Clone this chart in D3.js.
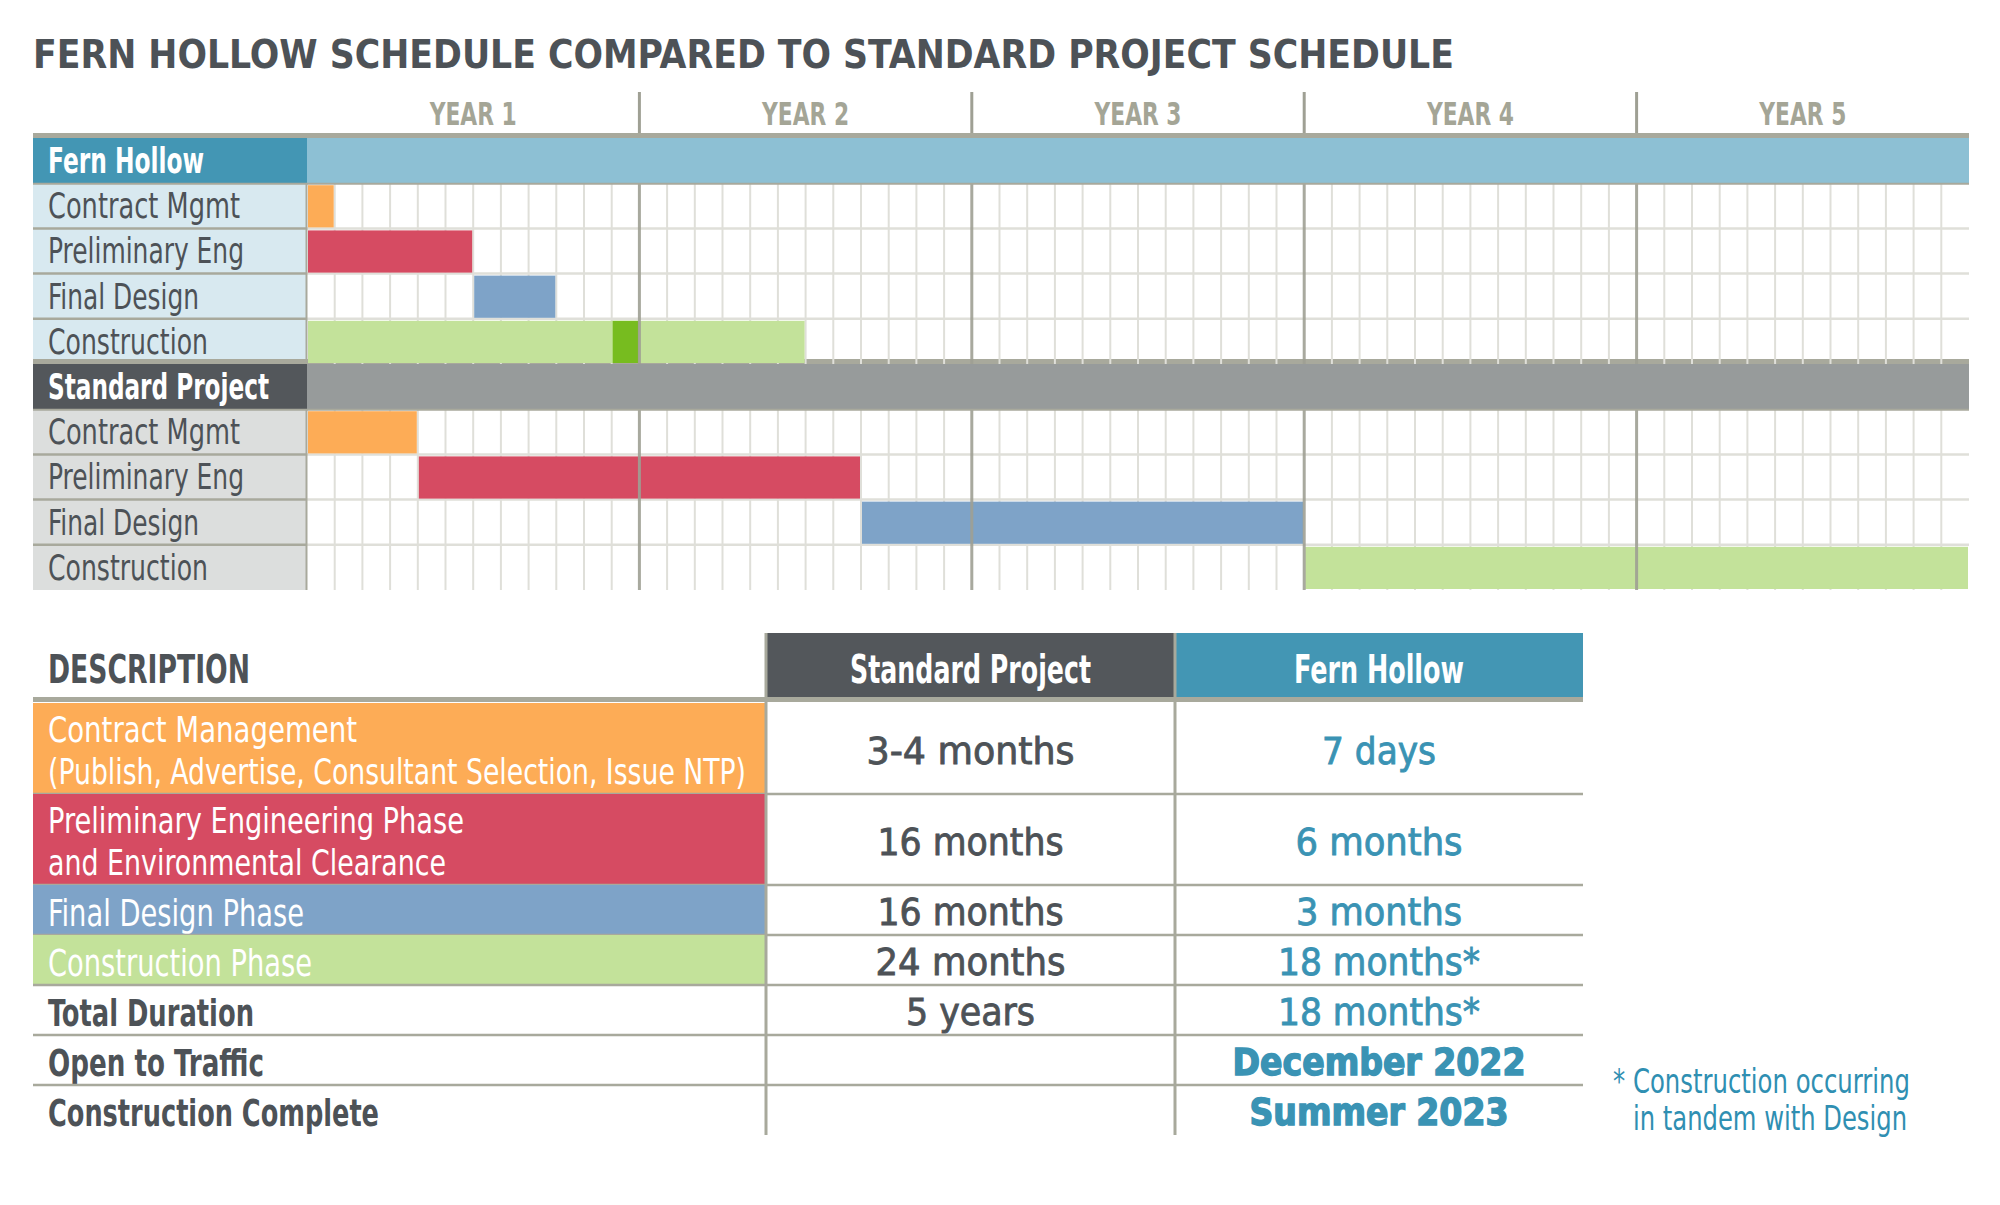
<!DOCTYPE html>
<html><head><meta charset="utf-8">
<script src="https://cdn.jsdelivr.net/npm/d3@7"></script>
<style>
html,body{margin:0;padding:0;background:#fff;}
svg{display:block;}
text{font-family:"Liberation Sans Narrow","DejaVu Sans Condensed","Roboto Condensed","Open Sans",sans-serif;}
</style></head><body>
<svg id="chart" width="2000" height="1205"></svg>
<script>
// ---------------- DATA ----------------
const title = "FERN HOLLOW SCHEDULE COMPARED TO STANDARD PROJECT SCHEDULE";
const yearLabels = ["YEAR 1","YEAR 2","YEAR 3","YEAR 4","YEAR 5"];
const groups = ["Fern Hollow","Standard Project"];
const phases = ["Contract Mgmt","Preliminary Eng","Final Design","Construction"];
// months from project start
const fernStart = [0, 0, 6, 0];
const fernEnd   = [1, 6, 9, 18];
const stdStart  = [0, 4, 20, 36];
const stdEnd    = [4, 20, 36, 60];
const fernHighlight = [11, 12]; // darker green month inside Fern Hollow construction
const totalMonths = 60;

const tableHeaders = ["DESCRIPTION","Standard Project","Fern Hollow"];
const descriptions = [
  ["Contract Management","(Publish, Advertise, Consultant Selection, Issue NTP)"],
  ["Preliminary Engineering Phase","and Environmental Clearance"],
  ["Final Design Phase"],
  ["Construction Phase"],
  ["Total Duration"],
  ["Open to Traffic"],
  ["Construction Complete"]
];
const standardValues = ["3-4 months","16 months","16 months","24 months","5 years","",""];
const fernValues = ["7 days","6 months","3 months","18 months*","18 months*","December 2022","Summer 2023"];
const footnote = ["* Construction occurring","in tandem with Design"];

// ---------------- STYLE / LAYOUT ----------------
const C = {
  dark:"#4d5257", yearTxt:"#a4a596", thick:"#a8a99c", teal:"#4396b4", tealLight:"#8dc0d4",
  fhLabel:"#d8e9f0", stdDark:"#53575b", stdBar:"#979b9b", stdLabel:"#dcdedd",
  grid:"#dfdfd9", yearLine:"#9fa094", valTeal:"#3a93b4",
  phase:["#fdac56","#d64b62","#7ea3c8","#c3e29a"], darkGreen:"#77bc1f"
};
const phaseDescColors = ["#fdac56","#d64b62","#7ea3c8","#c3e29a",null,null,null];
const W = {
  title:1421, year:87,
  ganttLabels:[156,192,196,151,160, 221,192,196,151,160],
  headers:[202,241,170],
  desc:[[309,698],[416,398],[256],[264],[206],[216],[331]],
  std:[208,186,186,190,129,0,0],
  fern:[114,167,166,202,202,293,259],
  foot:[297,274]
};

const svg = d3.select("#chart");
function fitText(sel, w){ if (w) sel.attr("textLength", w).attr("lengthAdjust","spacingAndGlyphs"); return sel; }

// Title
fitText(svg.append("text").attr("x",33).attr("y",68).attr("font-size",39).attr("font-weight","bold")
  .attr("fill",C.dark).text(title), W.title);

// ---------------- GANTT ----------------
const labelX0 = 33, chartX0 = 307, chartX1 = 1969;
const x = d3.scaleLinear().domain([0,totalMonths]).range([chartX0, chartX1]);
const rowIds = d3.range(10);
const y = d3.scaleBand().domain(rowIds).range([138, 590]);
const rh = y.bandwidth();

const rows = [];
groups.forEach((g,gi)=>{
  rows.push({label:g, header:true, group:gi});
  phases.forEach((p,pi)=>rows.push({label:p, header:false, group:gi, phase:pi}));
});

const g = svg.append("g");
// year header ticks
const yearTicks = d3.range(1,5).map(k=>k*12);
g.selectAll(".ytick").data(yearTicks).join("line")
  .attr("x1",d=>x(d)).attr("x2",d=>x(d)).attr("y1",92).attr("y2",134)
  .attr("stroke",C.yearLine).attr("stroke-width",3);
g.selectAll(".ylab").data(yearLabels).join("text")
  .attr("x",(d,i)=>x(i*12+6)).attr("y",125).attr("text-anchor","middle")
  .attr("font-size",32).attr("font-weight","bold").attr("fill",C.yearTxt).text(d=>d)
  .each(function(){ fitText(d3.select(this), W.year); });

// row backgrounds
rows.forEach((r,i)=>{
  const top = y(i);
  if (r.header){
    g.append("rect").attr("x",labelX0).attr("y",top).attr("width",chartX0-labelX0).attr("height",rh)
      .attr("fill", r.group===0 ? C.teal : C.stdDark);
    g.append("rect").attr("x",chartX0).attr("y",top).attr("width",chartX1-chartX0).attr("height",rh)
      .attr("fill", r.group===0 ? C.tealLight : C.stdBar);
    g.append("rect").attr("x",labelX0).attr("y",top-5).attr("width",chartX1-labelX0).attr("height",5).attr("fill",C.thick);
  } else {
    g.append("rect").attr("x",labelX0).attr("y",top).attr("width",chartX0-labelX0).attr("height",rh)
      .attr("fill", r.group===0 ? C.fhLabel : C.stdLabel);
    g.append("rect").attr("x",chartX0).attr("y",top).attr("width",chartX1-chartX0).attr("height",rh).attr("fill","#fff");
  }
});
// grid: month lines in sub rows
const months = d3.range(1,totalMonths).filter(m=>m%12!==0);
rows.forEach((r,i)=>{
  if (r.header) return;
  const top = y(i);
  g.append("g").selectAll("line").data(months).join("line")
    .attr("x1",d=>x(d)).attr("x2",d=>x(d)).attr("y1",top).attr("y2",top+rh)
    .attr("stroke",C.grid).attr("stroke-width",2);
  if (!rows[i-1].header){
    g.append("line").attr("x1",chartX0).attr("x2",chartX1).attr("y1",top).attr("y2",top).attr("stroke",C.grid).attr("stroke-width",2.5);
    g.append("line").attr("x1",labelX0).attr("x2",chartX0).attr("y1",top).attr("y2",top).attr("stroke",C.thick).attr("stroke-width",2.5);
  } else {
    g.append("line").attr("x1",labelX0).attr("x2",chartX1).attr("y1",top+0.5).attr("y2",top+0.5).attr("stroke",C.thick).attr("stroke-width",2);
  }
});
// bars
const barData = [];
phases.forEach((p,pi)=>{
  barData.push({row:1+pi, s:fernStart[pi], e:fernEnd[pi], c:C.phase[pi]});
  barData.push({row:6+pi, s:stdStart[pi], e:stdEnd[pi], c:C.phase[pi]});
});
barData.push({row:4, s:fernHighlight[0], e:fernHighlight[1], c:C.darkGreen});
g.append("g").selectAll("rect").data(barData).join("rect")
  .attr("x",d=>x(d.s)+1).attr("width",d=>x(d.e)-x(d.s)-2)
  .attr("y",d=>y(d.row)+2).attr("height",rh-3)
  .attr("fill",d=>d.c);
// label/chart boundary and year lines
[[1,4],[6,9]].forEach(([a,b])=>{
  g.append("line").attr("x1",chartX0-0.5).attr("x2",chartX0-0.5).attr("y1",y(a)).attr("y2",y(b)+rh)
    .attr("stroke",C.thick).attr("stroke-width",2);
  g.append("g").selectAll("line").data(yearTicks).join("line")
    .attr("x1",d=>x(d)).attr("x2",d=>x(d)).attr("y1",y(a)+1).attr("y2",y(b)+rh)
    .attr("stroke",C.yearLine).attr("stroke-width",3).attr("opacity",0.9);
});
// labels
rows.forEach((r,i)=>{
  fitText(g.append("text").attr("x",48).attr("y",y(i)+35)
    .attr("font-size", 35).attr("font-weight", r.header?"bold":"normal")
    .attr("fill", r.header ? "#fff" : C.dark).text(r.label), W.ganttLabels[i]);
});

// ---------------- TABLE ----------------
const cols = [33, 766, 1175, 1583];
const headTop = 633, headBottom = 697, bodyTop = 703;
const rowH = descriptions.map(d=> d.length===2 ? 91 : 50);
const rowTops = []; rowH.reduce((acc,h)=>{ rowTops.push(acc); return acc+h; }, bodyTop);
const tableBottom = rowTops[rowTops.length-1] + rowH[rowH.length-1];
const t = svg.append("g");

t.append("rect").attr("x",cols[1]).attr("y",headTop).attr("width",cols[2]-cols[1]).attr("height",headBottom-headTop).attr("fill",C.stdDark);
t.append("rect").attr("x",cols[2]).attr("y",headTop).attr("width",cols[3]-cols[2]).attr("height",headBottom-headTop).attr("fill",C.teal);
t.append("rect").attr("x",cols[0]).attr("y",headBottom).attr("width",cols[3]-cols[0]).attr("height",5).attr("fill",C.thick);

fitText(t.append("text").attr("x",48).attr("y",683).attr("font-size",39).attr("font-weight","bold").attr("fill",C.dark).text(tableHeaders[0]), W.headers[0]);
[1,2].forEach(k=>{
  fitText(t.append("text").attr("x",(cols[k]+cols[k+1])/2).attr("y",683).attr("text-anchor","middle")
    .attr("font-size",39).attr("font-weight","bold").attr("fill","#fff").text(tableHeaders[k]), W.headers[k]);
});

descriptions.forEach((lines,i)=>{
  const top = rowTops[i], h = rowH[i];
  if (phaseDescColors[i]) {
    t.append("rect").attr("x",cols[0]).attr("y",top).attr("width",cols[1]-cols[0]).attr("height",h).attr("fill",phaseDescColors[i]);
  }
  const white = !!phaseDescColors[i];
  lines.forEach((ln,j)=>{
    fitText(t.append("text").attr("x",48).attr("y", top + (lines.length===2 ? (j===0?39:81) : 41))
      .attr("font-size", lines.length===2 ? 36 : 38)
      .attr("font-weight", white ? "normal" : "bold")
      .attr("fill", white ? "#fff" : C.dark).text(ln), W.desc[i][j]);
  });
  const vy = top + h/2 + 15;
  if (standardValues[i]) {
    fitText(t.append("text").attr("x",(cols[1]+cols[2])/2).attr("y",vy).attr("text-anchor","middle")
      .attr("font-size",38).attr("fill",C.dark).attr("stroke",C.dark).attr("stroke-width",0.8)
      .text(standardValues[i]), W.std[i]);
  }
  if (fernValues[i]) {
    const heavy = i>=5;
    fitText(t.append("text").attr("x",(cols[2]+cols[3])/2).attr("y",vy).attr("text-anchor","middle")
      .attr("font-size",38).attr("font-weight", heavy?"bold":"normal")
      .attr("fill",C.valTeal).attr("stroke",C.valTeal).attr("stroke-width", heavy?1.4:0.8)
      .text(fernValues[i]), W.fern[i]);
  }
  if (i < descriptions.length-1) {
    t.append("line").attr("x1",cols[0]).attr("x2",cols[3]).attr("y1",top+h).attr("y2",top+h)
      .attr("stroke",C.thick).attr("stroke-width",2.5);
  }
});
[cols[1], cols[2]].forEach(cx=>{
  t.append("line").attr("x1",cx).attr("x2",cx).attr("y1",headTop).attr("y2",tableBottom)
    .attr("stroke",C.thick).attr("stroke-width",3);
});

// footnote
fitText(svg.append("text").attr("x",1613).attr("y",1093).attr("font-size",34).attr("fill","#2f8fb2").text(footnote[0]), W.foot[0]);
fitText(svg.append("text").attr("x",1633).attr("y",1130).attr("font-size",34).attr("fill","#2f8fb2").text(footnote[1]), W.foot[1]);
</script>
</body></html>
